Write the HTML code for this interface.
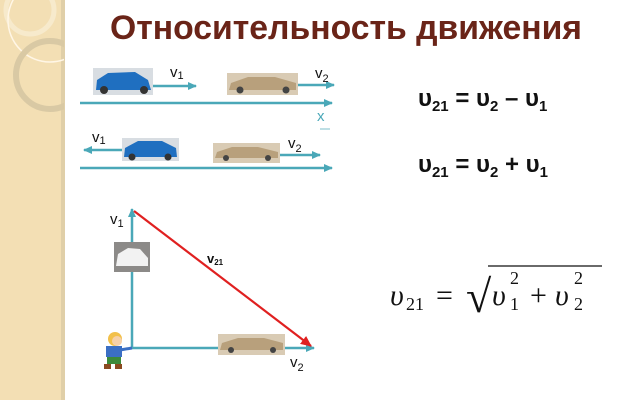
<!DOCTYPE html>
<html><head><meta charset="utf-8"><style>
html,body{margin:0;padding:0;width:638px;height:400px;overflow:hidden;background:#fff;}
svg{display:block}
</style></head><body>
<svg width="638" height="400" viewBox="0 0 638 400" xmlns="http://www.w3.org/2000/svg">
<defs>
<marker id="ab" markerWidth="10" markerHeight="10" refX="8" refY="5" orient="auto" markerUnits="userSpaceOnUse"><path d="M0,1 L9,5 L0,9 Z" fill="#4aa8b8"/></marker>
<marker id="ar" markerWidth="12" markerHeight="12" refX="10" refY="6" orient="auto" markerUnits="userSpaceOnUse"><path d="M0,1 L11,6 L0,11 Z" fill="#e02020"/></marker>
<clipPath id="cl"><rect x="0" y="0" width="64" height="400"/></clipPath>
</defs>
<rect x="0" y="0" width="64" height="400" fill="#f3dfb4"/>
<rect x="61" y="0" width="4" height="400" fill="#e0cfa8"/>
<g clip-path="url(#cl)" fill="none">
<circle cx="30" cy="10" r="24" stroke="#f8ecd2" stroke-width="5" opacity=".8"/>
<circle cx="50" cy="20" r="42" stroke="#fff6e6" stroke-width="1.5"/>
<circle cx="50" cy="75" r="34" stroke="#d9c9a4" stroke-width="6"/>
</g>
<text x="346" y="39" text-anchor="middle" font-family="Liberation Sans, sans-serif" font-weight="bold" font-size="34" fill="#6a2418" textLength="472" lengthAdjust="spacingAndGlyphs">Относительность движения</text>

<g stroke="#4aa8b8" stroke-width="2.5" fill="none">
<line x1="153" y1="86" x2="196" y2="86" marker-end="url(#ab)"/>
<line x1="297" y1="85" x2="334" y2="85" marker-end="url(#ab)"/>
<line x1="80" y1="103" x2="332" y2="103" marker-end="url(#ab)"/>
<line x1="122" y1="150" x2="84" y2="150" marker-end="url(#ab)"/>
<line x1="279" y1="155" x2="320" y2="155" marker-end="url(#ab)"/>
<line x1="80" y1="168" x2="332" y2="168" marker-end="url(#ab)"/>
<line x1="132" y1="348" x2="132" y2="209" marker-end="url(#ab)"/>
<line x1="132" y1="348" x2="314" y2="348" marker-end="url(#ab)"/>
</g>
<line x1="320" y1="129" x2="330" y2="129" stroke="#a8d4dc" stroke-width="1.5"/>
<line x1="134" y1="211" x2="311" y2="346" stroke="#e02020" stroke-width="2.2" marker-end="url(#ar)"/>

<g>
<rect x="93" y="68" width="60" height="27" fill="#d8dde2"/>
<path d="M96,90 L97,80 L108,73 L135,72 L148,80 L151,90 Z" fill="#1f6fc0"/>
<circle cx="104" cy="90" r="4" fill="#333"/><circle cx="144" cy="90" r="4" fill="#333"/>
<rect x="227" y="73" width="71" height="22" fill="#d9cbb4"/>
<path d="M229,90 L231,83 L248,77 L275,77 L296,83 L296,90 Z" fill="#b8a07c"/>
<circle cx="240" cy="90" r="3.5" fill="#444"/><circle cx="286" cy="90" r="3.5" fill="#444"/>
<rect x="122" y="138" width="57" height="23" fill="#d8dde2"/>
<path d="M124,157 L125,148 L138,141 L162,141 L176,148 L177,157 Z" fill="#1f6fc0"/>
<circle cx="132" cy="157" r="3.5" fill="#333"/><circle cx="168" cy="157" r="3.5" fill="#333"/>
<rect x="213" y="143" width="67" height="20" fill="#d9cbb4"/>
<path d="M215,158 L217,152 L232,147 L258,147 L278,152 L278,158 Z" fill="#b8a07c"/>
<circle cx="226" cy="158" r="3" fill="#444"/><circle cx="268" cy="158" r="3" fill="#444"/>
<rect x="114" y="242" width="36" height="30" fill="#8c8a88"/>
<path d="M116,266 L118,254 L128,248 L140,249 L148,258 L148,266 Z" fill="#f2f2f2"/>
<rect x="218" y="334" width="67" height="21" fill="#d9cbb4"/>
<path d="M220,350 L222,343 L238,338 L264,338 L283,343 L283,350 Z" fill="#b8a07c"/>
<circle cx="231" cy="350" r="3" fill="#444"/><circle cx="273" cy="350" r="3" fill="#444"/>
</g>
<g>
<circle cx="115" cy="339" r="7" fill="#f2c04a"/>
<circle cx="117" cy="341" r="5" fill="#f6d0a8"/>
<rect x="106" y="346" width="16" height="11" fill="#3b6fc4"/>
<line x1="120" y1="350" x2="132" y2="348" stroke="#3b6fc4" stroke-width="3"/>
<rect x="107" y="357" width="14" height="7" fill="#3c8a3a"/>
<rect x="104" y="364" width="7" height="5" fill="#8a4a20"/><rect x="115" y="364" width="7" height="5" fill="#8a4a20"/>
</g>

<g font-family="Liberation Sans, sans-serif" fill="#111">
<text x="170" y="77" font-size="15">v<tspan font-size="11" dy="2">1</tspan></text>
<text x="315" y="78" font-size="15">v<tspan font-size="11" dy="4">2</tspan></text>
<text x="317" y="121" font-size="15" fill="#4aa8b8">x</text>
<text x="92" y="142" font-size="15">v<tspan font-size="11" dy="2">1</tspan></text>
<text x="288" y="148" font-size="15">v<tspan font-size="11" dy="4">2</tspan></text>
<text x="110" y="224" font-size="15">v<tspan font-size="11" dy="3">1</tspan></text>
<text x="207" y="263" font-size="13" font-weight="bold">v<tspan font-size="8" dy="2">21</tspan></text>
<text x="290" y="367" font-size="15">v<tspan font-size="11" dy="4">2</tspan></text>
</g>

<g font-family="Liberation Sans, sans-serif" font-weight="bold" fill="#111" font-size="24">
<text x="418" y="106">υ<tspan font-size="15" dy="5">21</tspan><tspan dy="-5"> = υ</tspan><tspan font-size="15" dy="5">2</tspan><tspan dy="-5"> – υ</tspan><tspan font-size="15" dy="5">1</tspan></text>
<text x="418" y="172">υ<tspan font-size="15" dy="5">21</tspan><tspan dy="-5"> = υ</tspan><tspan font-size="15" dy="5">2</tspan><tspan dy="-5"> + υ</tspan><tspan font-size="15" dy="5">1</tspan></text>
</g>
<g font-family="Liberation Serif, serif" fill="#111">
<text x="390" y="305" font-size="30" font-style="italic">υ</text>
<text x="406" y="310" font-size="18">21</text>
<text x="436" y="305" font-size="30">=</text>
<text x="466" y="312" font-size="46">√</text>
<line x1="488" y1="266" x2="602" y2="266" stroke="#111" stroke-width="1.3"/>
<text x="492" y="305" font-size="30" font-style="italic">υ</text>
<text x="510" y="284" font-size="18">2</text>
<text x="510" y="310" font-size="18">1</text>
<text x="530" y="305" font-size="30">+</text>
<text x="555" y="305" font-size="30" font-style="italic">υ</text>
<text x="574" y="284" font-size="18">2</text>
<text x="574" y="310" font-size="18">2</text>
</g>
</svg>
</body></html>
